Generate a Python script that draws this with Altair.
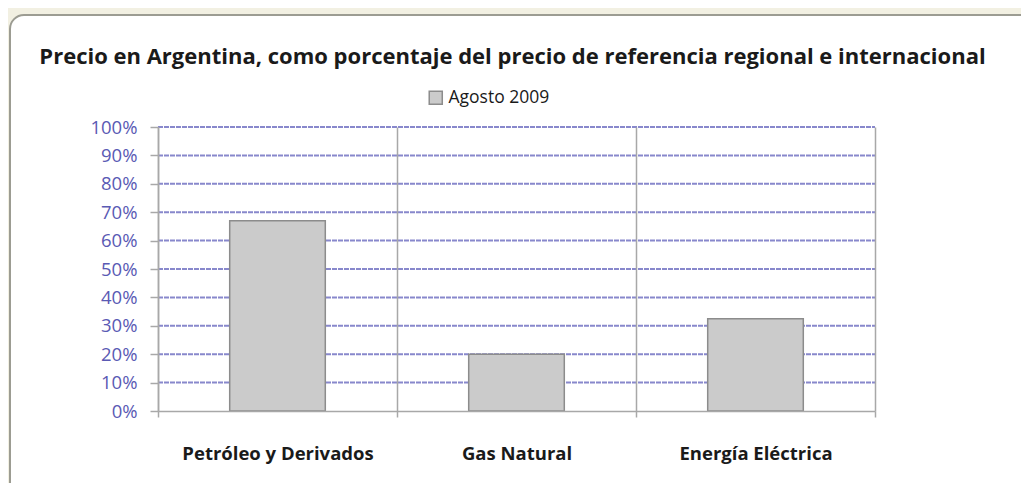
import altair as alt
import pandas as pd

categories = ["Petróleo y Derivados", "Gas Natural", "Energía Eléctrica"]
values = [0.67, 0.20, 0.325]
series = ["Agosto 2009"] * 3
y_ticks = [0, 0.1, 0.2, 0.3, 0.4, 0.5, 0.6, 0.7, 0.8, 0.9, 1.0]

df = pd.DataFrame({"cat": categories, "val": values, "serie": series})
grid_df = pd.DataFrame({"t": y_ticks[1:]})

W, H = 717, 284
FONT = "Open Sans"

x_enc = alt.X("cat:N", sort=categories, title=None,
              scale=alt.Scale(paddingInner=0, paddingOuter=0),
              axis=alt.Axis(labelAngle=0, grid=True, tickBand="extent", zindex=1,
                            gridColor="#a8a8a8", gridWidth=1.5,
                            domainColor="#a8a8a8", domainWidth=1.5,
                            tickColor="#a8a8a8", tickWidth=1.5, tickSize=6,
                            labelPadding=27, labelFont=FONT, labelFontSize=18.5,
                            labelLimit=400,
                            labelFontWeight="bold", labelColor="#1a1a1a"))

y_scale = alt.Scale(domain=[0, 1], nice=False)
y_axis = alt.Axis(values=y_ticks, format=".0%", grid=False, zindex=1,
                  domainColor="#a8a8a8", domainWidth=1.5,
                  tickColor="#a8a8a8", tickWidth=1.5, tickSize=8,
                  labelPadding=13, labelFont=FONT, labelFontSize=18.5,
                  labelColor="#5a5ab4")

frame = alt.Chart(pd.DataFrame({"a": [0]})).mark_rect(
    fill="white", stroke="#9c9c92", strokeWidth=2, cornerRadius=14
).encode(
    x=alt.value(-148), x2=alt.value(900), y=alt.value(-112), y2=alt.value(400)
)

hgrid = alt.Chart(grid_df).mark_rule(
    color="#8888cc", strokeDash=[5, 1], strokeWidth=2
).encode(
    y=alt.Y("t:Q", title=None, scale=y_scale, axis=y_axis),
    x=alt.value(0), x2=alt.value(W),
)

bars = alt.Chart(df).mark_bar(
    width=alt.RelativeBandSize(0.4), stroke="#8c8c8c", strokeWidth=1.5
).encode(
    x=x_enc,
    y=alt.Y("val:Q", title=None, scale=y_scale, axis=y_axis),
    fill=alt.Fill("serie:N", title=None,
                  scale=alt.Scale(range=["#cbcbcb"]),
                  legend=alt.Legend(orient="none", legendX=269, legendY=-38,
                                    symbolType="square", symbolSize=170,
                                    symbolStrokeColor="#8c8c8c", symbolStrokeWidth=1.5,
                                    labelFont=FONT, labelFontSize=17.5,
                                    labelColor="#1a1a1a", padding=0, zindex=1)),
)

chart = alt.layer(frame, hgrid, bars).resolve_scale(y="shared").properties(
    width=W, height=H,
    autosize=alt.AutoSizeParams(type="none"),
    padding={"left": 150, "top": 119, "right": 146, "bottom": 72},
    background="#f2f0e2",
    title=alt.Title("Precio en Argentina, como porcentaje del precio de referencia regional e internacional",
                    font=FONT, fontSize=22, fontWeight="bold", color="#1a1a1a",
                    anchor="middle", offset=0, dy=55, dx=-4),
).configure_view(stroke=None)

chart.save("out.html", embed_options={"renderer": "svg", "actions": False})
